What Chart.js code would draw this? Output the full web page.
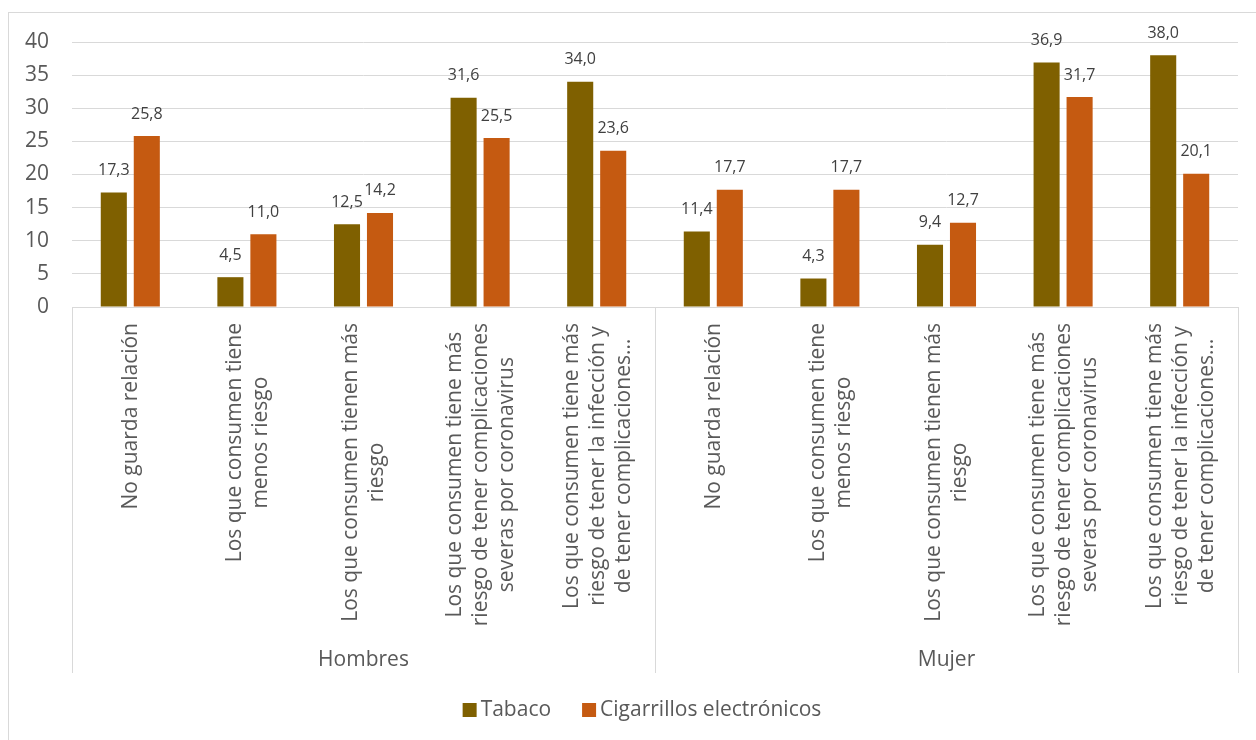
<!DOCTYPE html>
<html>
<head>
<meta charset="utf-8">
<script src="https://cdn.jsdelivr.net/npm/chart.js@4/dist/chart.umd.min.js"></script>
<style>
  html, body { margin: 0; padding: 0; background: #ffffff; }
  #c { display: block; }
</style>
</head>
<body>
<canvas id="c" width="1256" height="740"></canvas>
<script>
// ---- Data ----
const groups = ["Hombres", "Mujer"];
const subcategories = [
  ["No guarda relación"],
  ["Los que consumen tiene", "menos riesgo"],
  ["Los que consumen tienen más", "riesgo"],
  ["Los que consumen tiene más", "riesgo de tener complicaciones", "severas por coronavirus"],
  ["Los que consumen tiene más", "riesgo de tener la infección y", "de tener complicaciones…"]
];
const seriesNames = ["Tabaco", "Cigarrillos electrónicos"];
const tabacoValues = [17.3, 4.5, 12.5, 31.6, 34.0, 11.4, 4.3, 9.4, 36.9, 38.0];
const cigarrillosValues = [25.8, 11.0, 14.2, 25.5, 23.6, 17.7, 17.7, 12.7, 31.7, 20.1];
const yTicks = [0, 5, 10, 15, 20, 25, 30, 35, 40];

// Build category list (group x subcategory)
const categories = groups.flatMap(() => subcategories);
const groupSizes = groups.map(() => subcategories.length);

const colors = ["#7f6000", "#c55a11"];
const FONT = "'Open Sans', 'Noto Sans', sans-serif";
const TEXT = "#595959";
const LINE = "#d9d9d9";

function fmt(v) { return v.toFixed(1).replace(".", ","); }

const decorPlugin = {
  id: "decor",
  beforeDraw(chart) {
    const ctx = chart.ctx;
    ctx.save();
    ctx.fillStyle = "#ffffff";
    ctx.fillRect(0, 0, chart.width, chart.height);
    ctx.strokeStyle = LINE;
    ctx.lineWidth = 1;
    ctx.strokeRect(8.5, 12.5, chart.width + 20, chart.height + 20);
    ctx.restore();
  },
  afterDraw(chart) {
    const ctx = chart.ctx;
    const xs = chart.scales.x;
    const area = chart.chartArea;
    ctx.save();

    // Data labels
    ctx.font = "16px " + FONT;
    ctx.fillStyle = "#404040";
    ctx.textAlign = "center";
    ctx.textBaseline = "middle";
    chart.data.datasets.forEach((ds, di) => {
      chart.getDatasetMeta(di).data.forEach((bar, i) => {
        ctx.fillText(fmt(ds.data[i]), bar.x, bar.y - 22);
      });
    });

    // Category labels (rotated, multi-line centered, top aligned)
    ctx.font = "21px " + FONT;
    ctx.fillStyle = TEXT;
    const lh = 26;
    const topY = area.bottom + 16;
    categories.forEach((lines, i) => {
      const cx = xs.getPixelForValue(i) + 1;
      const w = Math.max(...lines.map(l => ctx.measureText(l).width));
      ctx.save();
      ctx.translate(cx, topY + w / 2);
      ctx.rotate(-Math.PI / 2);
      ctx.textAlign = "center";
      ctx.textBaseline = "middle";
      lines.forEach((l, k) => {
        ctx.fillText(l, 0, (k - (lines.length - 1) / 2) * lh);
      });
      ctx.restore();
    });

    // Separators and group labels
    const sepBottom = 673;
    ctx.strokeStyle = LINE;
    ctx.lineWidth = 1;
    let start = 0;
    const bounds = [area.left];
    groupSizes.forEach((n, g) => {
      const end = start + n - 1;
      const right = (end + 1 < categories.length)
        ? (xs.getPixelForValue(end) + xs.getPixelForValue(end + 1)) / 2
        : area.right;
      bounds.push(right);
      const left = bounds[g];
      ctx.fillStyle = TEXT;
      ctx.font = "21px " + FONT;
      ctx.textAlign = "center";
      ctx.textBaseline = "middle";
      ctx.fillText(groups[g], (left + right) / 2, 660);
      start += n;
    });
    bounds.forEach(b => {
      const x = Math.round(b) + 0.5;
      ctx.beginPath();
      ctx.moveTo(x, area.bottom);
      ctx.lineTo(x, sepBottom);
      ctx.stroke();
    });

    // Legend
    ctx.font = "21px " + FONT;
    ctx.textAlign = "left";
    ctx.textBaseline = "middle";
    const box = 14, gap = 4, itemGap = 31;
    const widths = seriesNames.map(n => box + gap + ctx.measureText(n).width);
    const total = widths.reduce((a, b) => a + b, 0) + itemGap * (seriesNames.length - 1);
    let lx = (area.left + area.right) / 2 - 13 - total / 2;
    const ly = 710;
    seriesNames.forEach((n, i) => {
      ctx.fillStyle = colors[i];
      ctx.fillRect(lx, ly - 7, box, box);
      ctx.fillStyle = TEXT;
      ctx.fillText(n, lx + box + gap, ly);
      lx += widths[i] + itemGap;
    });

    ctx.restore();
  }
};

new Chart(document.getElementById("c"), {
  type: "bar",
  data: {
    labels: categories.map(l => l.join(" ")),
    datasets: [
      { label: seriesNames[0], data: tabacoValues, backgroundColor: colors[0],
        categoryPercentage: 0.566, barPercentage: 0.79 },
      { label: seriesNames[1], data: cigarrillosValues, backgroundColor: colors[1],
        categoryPercentage: 0.566, barPercentage: 0.79 }
    ]
  },
  options: {
    responsive: false,
    animation: false,
    devicePixelRatio: 1,
    layout: { padding: { left: 0, top: 42, right: 18, bottom: 0 } },
    plugins: { legend: { display: false }, tooltip: { enabled: false } },
    scales: {
      x: {
        ticks: { display: false },
        grid: { display: false, drawTicks: false },
        border: { display: true, color: LINE, width: 1 },
        afterFit(s) { s.height = 433; }
      },
      y: {
        min: 0, max: 40,
        afterBuildTicks(s) { s.ticks = yTicks.map(v => ({ value: v })); },
        ticks: { padding: 23, color: TEXT, font: { family: FONT, size: 21 } },
        grid: { color: LINE, lineWidth: 1, drawTicks: false },
        border: { display: false },
        afterFit(s) { s.width = 72; }
      }
    }
  },
  plugins: [decorPlugin]
});
</script>
</body>
</html>
